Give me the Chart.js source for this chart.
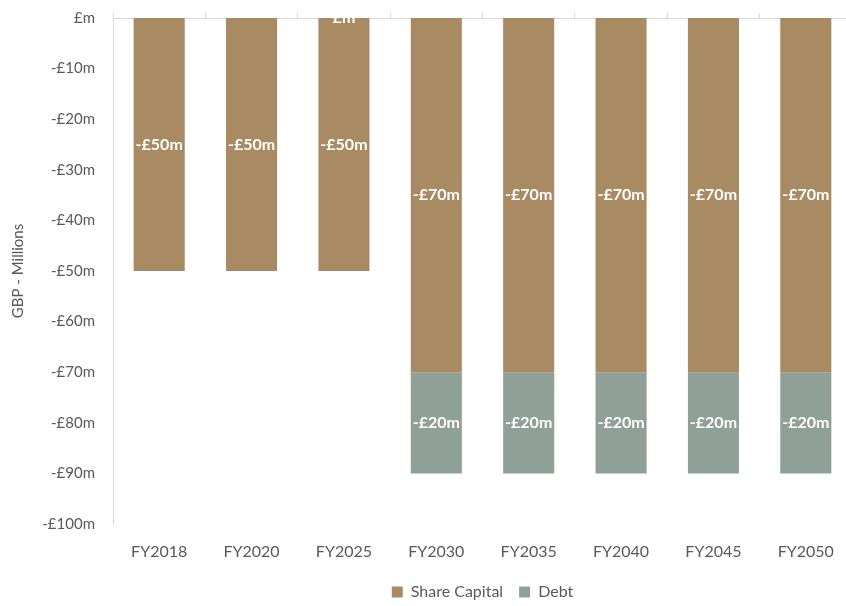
<!DOCTYPE html>
<html>
<head>
<meta charset="utf-8">
<script src="https://cdn.jsdelivr.net/npm/chart.js@4/dist/chart.umd.min.js"></script>
<style>
  html, body { margin: 0; padding: 0; background: #ffffff; overflow: hidden; }
  #wrap { width: 852px; height: 606px; }
</style>
</head>
<body>
<div id="wrap"><canvas id="c" width="852" height="606"></canvas></div>
<script>
// Funding by year (GBP millions, negative = outflow)
const categories = ['FY2018', 'FY2020', 'FY2025', 'FY2030', 'FY2035', 'FY2040', 'FY2045', 'FY2050'];
const shareCapital = [-50, -50, -50, -70, -70, -70, -70, -70];
const debt = [null, null, 0, -20, -20, -20, -20, -20];
const yTicks = [0, -10, -20, -30, -40, -50, -60, -70, -80, -90, -100];

const FONT = "Lato, 'Noto Sans', sans-serif";
const TEXT = '#595959';

function money(v) {
  return v === 0 ? '£m' : (v < 0 ? '-£' : '£') + Math.abs(v) + 'm';
}

// White value labels centred on each segment, clipped to the plot area
const valueLabels = {
  id: 'valueLabels',
  afterDatasetsDraw(chart) {
    const { ctx, chartArea, scales } = chart;
    ctx.save();
    ctx.beginPath();
    ctx.rect(chartArea.left, chartArea.top, chartArea.right - chartArea.left, chartArea.bottom - chartArea.top);
    ctx.clip();
    ctx.fillStyle = '#ffffff';
    ctx.font = 'bold 16px ' + FONT;
    ctx.textAlign = 'center';
    ctx.textBaseline = 'middle';
    chart.data.datasets.forEach((ds, di) => {
      const meta = chart.getDatasetMeta(di);
      meta.data.forEach((bar, i) => {
        const v = ds.data[i];
        if (v === null || v === undefined) return;
        const y = v === 0 ? scales.y.getPixelForValue(0) : (bar.y + bar.base) / 2;
        ctx.fillText(money(v), bar.x, y);
      });
    });
    ctx.restore();
  }
};

new Chart(document.getElementById('c'), {
  type: 'bar',
  data: {
    labels: categories,
    datasets: [
      { label: 'Share Capital', data: shareCapital, backgroundColor: '#a98b63', borderWidth: 0 },
      { label: 'Debt', data: debt, backgroundColor: '#8fa096', borderWidth: 0 }
    ]
  },
  plugins: [valueLabels],
  options: {
    responsive: false,
    animation: false,
    layout: { padding: { top: 13, left: 0, right: 0, bottom: -4 } },
    datasets: { bar: { categoryPercentage: 1, barPercentage: 0.553 } },
    plugins: {
      legend: {
        position: 'bottom',
        fullSize: false,
        labels: {
          boxWidth: 11, boxHeight: 11, padding: 16,
          color: TEXT, font: { family: FONT, size: 16 }
        }
      },
      tooltip: { enabled: false },
      title: { display: false }
    },
    scales: {
      x: {
        stacked: true,
        offset: true,
        grid: { display: false },
        border: { display: false },
        ticks: { color: TEXT, font: { family: FONT, size: 16 }, padding: 10 },
        afterFit(s) { s.height = 44; }
      },
      xTop: {
        type: 'category',
        position: 'top',
        offset: true,
        grid: { offset: true, drawOnChartArea: false, tickLength: 5, color: '#d9d9d9' },
        border: { display: true, color: '#d9d9d9' },
        ticks: { display: false }
      },
      y: {
        stacked: true,
        min: -100,
        max: 0,
        afterBuildTicks(s) { s.ticks = yTicks.map(v => ({ value: v })); },
        grid: { display: false, drawTicks: false },
        border: { display: true, color: '#d9d9d9' },
        ticks: {
          color: TEXT, font: { family: FONT, size: 15 }, padding: 18,
          callback: v => money(v)
        },
        title: {
          display: true, text: 'GBP - Millions', color: TEXT,
          font: { family: FONT, size: 15 }, padding: { top: 9, bottom: 6 }
        },
        afterFit(s) { s.width = 113; s.paddingTop = 0; s.paddingBottom = 0; }
      }
    }
  }
});
</script>
</body>
</html>
